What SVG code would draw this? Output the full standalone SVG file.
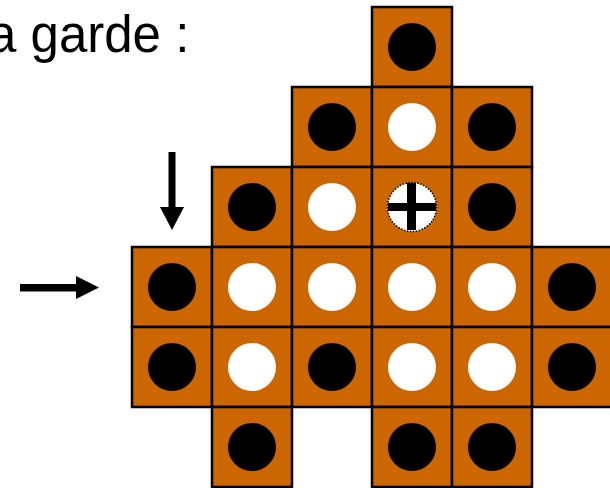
<svg xmlns="http://www.w3.org/2000/svg" width="610" height="488" viewBox="0 0 610 488">
<style>
.cell{fill:#CC6600;stroke:#000;stroke-width:2.5}
.b{fill:#000}
.w{fill:#fff}
.t{font-family:"Liberation Sans",Arial,sans-serif;font-size:51px;fill:#000}
</style>
<rect width="610" height="488" fill="#fff"/>
<text class="t" x="-12" y="52">a garde :</text>
<g id="board">
<g id="r0c3"><rect class="cell" x="372" y="7" width="80" height="80"/><circle class="b" cx="412" cy="47" r="24"/></g>
<g id="r1c2"><rect class="cell" x="292" y="87" width="80" height="80"/><circle class="b" cx="332" cy="127" r="24"/></g>
<g id="r1c3"><rect class="cell" x="372" y="87" width="80" height="80"/><circle class="w" cx="412" cy="127" r="24"/></g>
<g id="r1c4"><rect class="cell" x="452" y="87" width="80" height="80"/><circle class="b" cx="492" cy="127" r="24"/></g>
<g id="r2c1"><rect class="cell" x="212" y="167" width="80" height="80"/><circle class="b" cx="252" cy="207" r="24"/></g>
<g id="r2c2"><rect class="cell" x="292" y="167" width="80" height="80"/><circle class="w" cx="332" cy="207" r="24"/></g>
<g id="r2c3"><rect class="cell" x="372" y="167" width="80" height="80"/><circle cx="412" cy="207" r="24.5" fill="#fff" stroke="#000" stroke-width="1.5" stroke-dasharray="1.5 1.5"/><rect x="388" y="203" width="48" height="8" fill="#000"/><rect x="407" y="183" width="9" height="47" fill="#000"/></g>
<g id="r2c4"><rect class="cell" x="452" y="167" width="80" height="80"/><circle class="b" cx="492" cy="207" r="24"/></g>
<g id="r3c0"><rect class="cell" x="132" y="247" width="80" height="80"/><circle class="b" cx="172" cy="287" r="24"/></g>
<g id="r3c1"><rect class="cell" x="212" y="247" width="80" height="80"/><circle class="w" cx="252" cy="287" r="24"/></g>
<g id="r3c2"><rect class="cell" x="292" y="247" width="80" height="80"/><circle class="w" cx="332" cy="287" r="24"/></g>
<g id="r3c3"><rect class="cell" x="372" y="247" width="80" height="80"/><circle class="w" cx="412" cy="287" r="24"/></g>
<g id="r3c4"><rect class="cell" x="452" y="247" width="80" height="80"/><circle class="w" cx="492" cy="287" r="24"/></g>
<g id="r3c5"><rect class="cell" x="532" y="247" width="80" height="80"/><circle class="b" cx="572" cy="287" r="24"/></g>
<g id="r4c0"><rect class="cell" x="132" y="327" width="80" height="80"/><circle class="b" cx="172" cy="367" r="24"/></g>
<g id="r4c1"><rect class="cell" x="212" y="327" width="80" height="80"/><circle class="w" cx="252" cy="367" r="24"/></g>
<g id="r4c2"><rect class="cell" x="292" y="327" width="80" height="80"/><circle class="b" cx="332" cy="367" r="24"/></g>
<g id="r4c3"><rect class="cell" x="372" y="327" width="80" height="80"/><circle class="w" cx="412" cy="367" r="24"/></g>
<g id="r4c4"><rect class="cell" x="452" y="327" width="80" height="80"/><circle class="w" cx="492" cy="367" r="24"/></g>
<g id="r4c5"><rect class="cell" x="532" y="327" width="80" height="80"/><circle class="b" cx="572" cy="367" r="24"/></g>
<g id="r5c1"><rect class="cell" x="212" y="407" width="80" height="80"/><circle class="b" cx="252" cy="447" r="24"/></g>
<g id="r5c3"><rect class="cell" x="372" y="407" width="80" height="80"/><circle class="b" cx="412" cy="447" r="24"/></g>
<g id="r5c4"><rect class="cell" x="452" y="407" width="80" height="80"/><circle class="b" cx="492" cy="447" r="24"/></g>
</g>
<g id="connectors">
<polygon points="168.5,152 175.5,152 175.5,207 184,207 172,230 160,207 168.5,207" fill="#000"/>
<polygon points="20,284 76,284 76,276 99,287.5 76,299 76,291.5 20,291.5" fill="#000"/>
</g>
</svg>
